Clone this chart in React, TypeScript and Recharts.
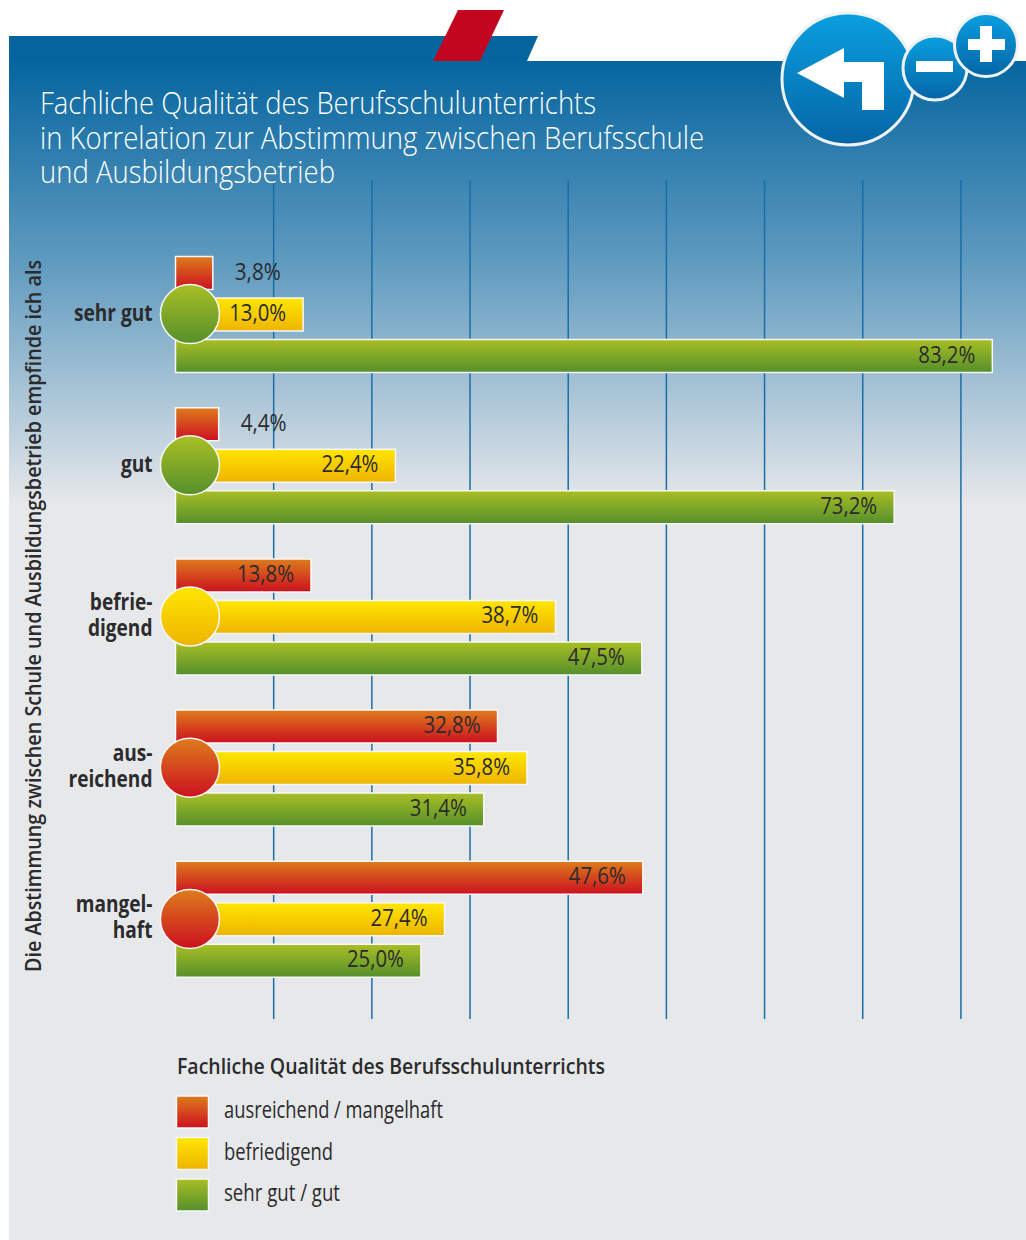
import React from 'react';
import { BarChart, Bar, XAxis, YAxis, CartesianGrid, LabelList, ReferenceDot } from 'recharts';

const categories = ['sehr gut', 'gut', 'befrie-\ndigend', 'aus-\nreichend', 'mangel-\nhaft'];
const poorValues = [3.8, 4.4, 13.8, 32.8, 47.6];
const fairValues = [13.0, 22.4, 38.7, 35.8, 27.4];
const goodValues = [83.2, 73.2, 47.5, 31.4, 25.0];
const circleGrades = ['good', 'good', 'fair', 'poor', 'poor'];
const gridValues = [10, 20, 30, 40, 50, 60, 70, 80];
const titleLines = [
  'Fachliche Qualität des Berufsschulunterrichts',
  'in Korrelation zur Abstimmung zwischen Berufsschule',
  'und Ausbildungsbetrieb',
];
const yTitle = 'Die Abstimmung zwischen Schule und Ausbildungsbetrieb empfinde ich als';
const legendTitle = 'Fachliche Qualität des Berufsschulunterrichts';
const legendItems = [
  { grade: 'poor', label: 'ausreichend / mangelhaft', width: 219 },
  { grade: 'fair', label: 'befriedigend', width: 109 },
  { grade: 'good', label: 'sehr gut / gut', width: 116 },
];

const data = categories.map((name, i) => ({
  name,
  poor: poorValues[i],
  fair: fairValues[i],
  good: goodValues[i],
  grade: circleGrades[i],
}));

const FONT = "'Open Sans', 'Liberation Sans', sans-serif";
const INK = '#2b2b2d';

const fmt = (v: number) => v.toFixed(1).replace('.', ',') + '%';

const ValueLabel = (props: any) => {
  const { x, y, width, height, value } = props;
  const outside = value < 5;
  const right = outside ? x + width + 68 : x + width - 17;
  const w = outside ? 46 : 57;
  return (
    <text
      x={right - w}
      y={y + height / 2 + 6.5}
      fontFamily={FONT}
      fontWeight={400}
      fontSize={23}
      fill={INK}
      textLength={w}
      lengthAdjust="spacingAndGlyphs"
    >
      {fmt(value)}
    </text>
  );
};

const CatTick = (props: any) => {
  const { y, payload } = props;
  const lines = String(payload.value).split('\n');
  const start = y + 6.5 - ((lines.length - 1) * 26) / 2;
  return (
    <text
      transform="translate(152.5 0) scale(0.83 1) translate(-152.5 0)"
      textAnchor="end"
      fontFamily={FONT}
      fontWeight={700}
      fontSize={23}
      fill={INK}
    >
      {lines.map((l: string, i: number) => (
        <tspan key={i} x={152.5} y={start + i * 26}>{l}</tspan>
      ))}
    </text>
  );
};

const Grad = ({ id, a, b }: { id: string; a: string; b: string }) => (
  <linearGradient id={id} x1="0" y1="0" x2="0" y2="1">
    <stop offset="0" stopColor={a} />
    <stop offset="1" stopColor={b} />
  </linearGradient>
);

export default function App() {
  return (
    <div style={{ position: 'absolute', left: 0, top: 0, width: 1026, height: 1240, overflow: 'hidden', background: '#fff' }}>
      <svg width={1026} height={1240} style={{ position: 'absolute', left: 0, top: 0 }}>
        <defs>
          <Grad id="poor" a="#de7c1c" b="#cc1020" />
          <Grad id="fair" a="#ffe600" b="#eeb400" />
          <Grad id="good" a="#a9bf24" b="#558f2c" />
          <Grad id="btn" a="#0a9fe0" b="#0565a5" />
          <linearGradient id="panel" gradientUnits="userSpaceOnUse" x1="0" y1="61" x2="0" y2="505">
            <stop offset="0" stopColor="#05659f" />
            <stop offset="0.45" stopColor="#5f9abf" />
            <stop offset="1" stopColor="#e7e8ea" />
          </linearGradient>
        </defs>
        <rect x={9} y={61} width={1017} height={1179} fill="#e7e8ea" />
        <rect x={9} y={61} width={1017} height={444} fill="url(#panel)" />
        <polygon points="9,36 538,36 527,61 9,61" fill="#05649e" />
        <polygon points="458,10 504,10 480,61 433,61" fill="#c30620" />
      </svg>

      <div style={{ position: 'absolute', left: 0, top: 0 }}>
        <BarChart
          width={1026}
          height={1240}
          data={data}
          layout="vertical"
          margin={{ top: 180, right: 16, bottom: 221, left: 0 }}
          barSize={33}
          barGap={8.5}
        >
          <CartesianGrid horizontal={false} vertical verticalValues={gridValues} stroke="#1a6ea8" strokeWidth={1.5} />
          <XAxis type="number" domain={[0, 85]} hide />
          <YAxis
            type="category"
            dataKey="name"
            width={175.5}
            axisLine={false}
            tickLine={false}
            padding={{ top: 58.5, bottom: 24.5 }}
            tick={<CatTick />}
            interval={0}
          />
          <Bar dataKey="poor" fill="url(#poor)" stroke="#f7f7f7" strokeWidth={1.5} isAnimationActive={false}>
            <LabelList dataKey="poor" content={<ValueLabel />} />
          </Bar>
          <Bar dataKey="fair" fill="url(#fair)" stroke="#f7f7f7" strokeWidth={1.5} isAnimationActive={false}>
            <LabelList dataKey="fair" content={<ValueLabel />} />
          </Bar>
          <Bar dataKey="good" fill="url(#good)" stroke="#f7f7f7" strokeWidth={1.5} isAnimationActive={false}>
            <LabelList dataKey="good" content={<ValueLabel />} />
          </Bar>
          {data.map((d) => (
            <ReferenceDot
              key={d.name}
              x={1.47}
              y={d.name}
              r={29.5}
              fill={`url(#${d.grade})`}
              stroke="#f7f7f7"
              strokeWidth={1.5}
              ifOverflow="visible"
            />
          ))}
        </BarChart>
      </div>

      <svg width={1026} height={1240} style={{ position: 'absolute', left: 0, top: 0, pointerEvents: 'none' }}>
        <g fontFamily={FONT} fontWeight={300} fill="#fff" fontSize={31}>
          <text x={40} y={114} textLength={556} lengthAdjust="spacingAndGlyphs">{titleLines[0]}</text>
          <text x={40} y={149} textLength={664} lengthAdjust="spacingAndGlyphs">{titleLines[1]}</text>
          <text x={40} y={183} textLength={295} lengthAdjust="spacingAndGlyphs">{titleLines[2]}</text>
        </g>
        <text
          transform="translate(41 972) rotate(-90)"
          fontFamily={FONT}
          fontWeight={600}
          fontSize={22}
          fill={INK}
          textLength={712}
          lengthAdjust="spacingAndGlyphs"
        >
          {yTitle}
        </text>

        <circle cx={848} cy={79} r={66} fill="url(#btn)" stroke="#eef2f5" strokeWidth={3} />
        <polygon points="797,73 844,48 844,62 884,62 884,110 862,110 862,82 844,82 844,98" fill="#fff" />
        <circle cx={935} cy={68} r={32} fill="url(#btn)" stroke="#eef2f5" strokeWidth={3} />
        <rect x={916} y={61} width={37} height={11} fill="#fff" />
        <circle cx={986} cy={45} r={31.5} fill="url(#btn)" stroke="#eef2f5" strokeWidth={3} />
        <rect x={968} y={39} width={37} height={11} fill="#fff" />
        <rect x={980} y={26} width={12} height={36} fill="#fff" />

        <text x={177} y={1074} fontFamily={FONT} fontWeight={600} fontSize={22} fill={INK} textLength={428} lengthAdjust="spacingAndGlyphs">
          {legendTitle}
        </text>
        {legendItems.map((it, i) => (
          <g key={it.grade}>
            <rect x={176.5} y={1096 + i * 41.5} width={32} height={32} fill={`url(#${it.grade})`} stroke="#f7f7f7" strokeWidth={1.5} />
            <text x={224} y={1118 + i * 41.5} fontFamily={FONT} fontWeight={400} fontSize={23} fill={INK} textLength={it.width} lengthAdjust="spacingAndGlyphs">
              {it.label}
            </text>
          </g>
        ))}
      </svg>
    </div>
  );
}
